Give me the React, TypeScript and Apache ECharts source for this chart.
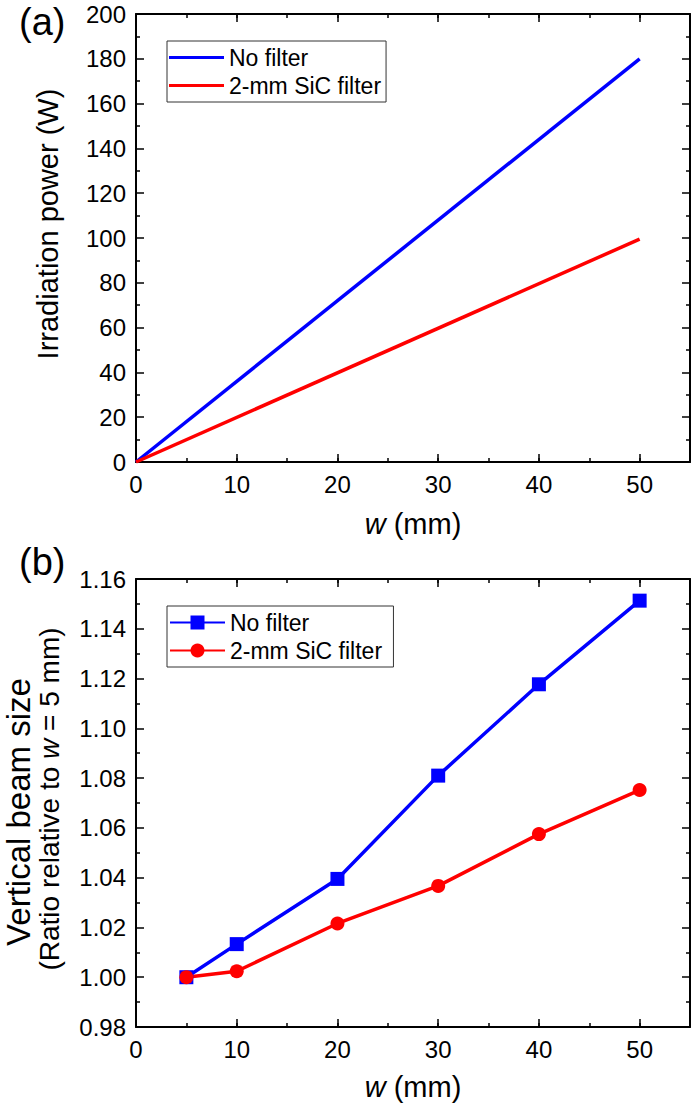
import React, { useEffect, useRef } from 'react';
import * as echarts from 'echarts';

const FONT = "'Liberation Sans', Arial, Helvetica, sans-serif";

// Panel (a): irradiation power vs w
const wTop = [0, 50];
const powerNoFilter = [0, 180];
const powerSiC = [0, 99.5];

// Panel (b): vertical beam size ratio vs w
const wBottom = [5, 10, 20, 30, 40, 50];
const ratioNoFilter = [1.0, 1.0133, 1.0395, 1.081, 1.1177, 1.1513];
const ratioSiC = [1.0, 1.0024, 1.0216, 1.0367, 1.0575, 1.0752];

const seriesNames = ['No filter', '2-mm SiC filter'];
const seriesNamesB = ['No filter ', '2-mm SiC filter '];
const panelLabels = ['(a)', '(b)'];

const BLUE = '#0000ff';
const RED = '#ff0000';

const pairs = (xs: number[], ys: number[]) => xs.map((x, i) => [x, ys[i]]);

const tickStyle = { color: '#000', width: 1.5 };
const lineStyle = { color: '#000', width: 2 };

function makeXAxes(gridIndex: number, nameGap: number) {
  const base = { type: 'value', gridIndex, min: 0, max: 55, splitLine: { show: false } };
  return [
    {
      ...base,
      position: 'bottom',
      interval: 10,
      axisLine: { show: true, onZero: false, lineStyle },
      axisTick: { show: true, inside: true, length: 8, lineStyle: tickStyle },
      axisLabel: { show: true, margin: 10, fontSize: 24, color: '#000', fontFamily: FONT, showMaxLabel: false },
      name: '{i|w} (mm)',
      nameLocation: 'middle',
      nameGap,
      nameTextStyle: {
        fontSize: 29,
        color: '#000',
        fontFamily: FONT,
        rich: { i: { fontStyle: 'italic', fontSize: 29, color: '#000', fontFamily: FONT } },
      },
    },
    {
      ...base,
      position: 'bottom',
      interval: 5,
      axisLine: { show: false, onZero: false },
      axisTick: { show: true, inside: true, length: 4, lineStyle: tickStyle },
      axisLabel: { show: false },
    },
    {
      ...base,
      position: 'top',
      interval: 10,
      axisLine: { show: true, onZero: false, lineStyle },
      axisTick: { show: true, inside: true, length: 8, lineStyle: tickStyle },
      axisLabel: { show: false },
    },
    {
      ...base,
      position: 'top',
      interval: 5,
      axisLine: { show: false, onZero: false },
      axisTick: { show: true, inside: true, length: 4, lineStyle: tickStyle },
      axisLabel: { show: false },
    },
  ];
}

function makeYAxes(
  gridIndex: number,
  min: number,
  max: number,
  interval: number,
  formatter: (v: number) => string,
  name: string,
  nameGap: number,
  nameTextStyle: any
) {
  const base = {
    type: 'value',
    gridIndex,
    min,
    max,
    interval,
    splitLine: { show: false },
    minorSplitLine: { show: false },
    axisLine: { show: true, onZero: false, lineStyle },
    axisTick: { show: true, inside: true, length: 8, lineStyle: tickStyle },
    minorTick: { show: true, splitNumber: 2, length: 4, lineStyle: tickStyle },
  };
  return [
    {
      ...base,
      position: 'left',
      axisLabel: { show: true, margin: 10, fontSize: 24, color: '#000', fontFamily: FONT, formatter },
      name,
      nameLocation: 'middle',
      nameGap,
      nameRotate: 90,
      nameTextStyle,
    },
    {
      ...base,
      position: 'right',
      axisLabel: { show: false },
    },
  ];
}

export default function App() {
  const ref = useRef<HTMLDivElement>(null);

  useEffect(() => {
    document.body.style.margin = '0';
    if (!ref.current) return;
    const chart = echarts.init(ref.current, null, { renderer: 'svg' });

    const option: any = {
      animation: false,
      backgroundColor: '#fff',
      textStyle: { fontFamily: FONT },
      grid: [
        { left: 136, top: 14, width: 554, height: 448, containLabel: false, outerBoundsMode: 'none' },
        { left: 136, top: 579, width: 554, height: 448, containLabel: false, outerBoundsMode: 'none' },
      ],
      xAxis: [...makeXAxes(0, 47), ...makeXAxes(1, 45)],
      yAxis: [
        ...makeYAxes(0, 0, 200, 20, (v: number) => String(Math.round(v)), 'Irradiation power (W)', 74, {
          fontSize: 29,
          color: '#000',
          fontFamily: FONT,
          padding: [0, 0, 0, 28],
        }),
        ...makeYAxes(
          1,
          0.98,
          1.16,
          0.02,
          (v: number) => v.toFixed(2),
          '{a|Vertical beam size}\n{b0|(Ratio relative to }{bi|w}{b| = 5 mm)}',
          71,
          {
            color: '#000',
            fontFamily: FONT,
            fontSize: 28,
            rich: {
              a: { fontSize: 33, lineHeight: 32, color: '#000', fontFamily: FONT, padding: [0, 18, 0, 0] },
              b0: { fontSize: 28, lineHeight: 31, color: '#000', fontFamily: FONT, padding: [0, 0, 0, 8] },
              b: { fontSize: 28, lineHeight: 31, color: '#000', fontFamily: FONT },
              bi: { fontSize: 28, lineHeight: 31, color: '#000', fontFamily: FONT, fontStyle: 'italic' },
            },
          }
        ),
      ],
      legend: [
        {
          orient: 'vertical',
          left: 167,
          top: 41,
          data: seriesNames.map((n) => ({ name: n, icon: 'rect' })),
          itemWidth: 55,
          itemHeight: 3,
          itemGap: 5,
          padding: [5, 5, 5, 2],
          borderColor: '#333',
          borderWidth: 1,
          borderRadius: 0,
          selectedMode: false,
          textStyle: { fontSize: 23, color: '#000', fontFamily: FONT },
        },
        {
          orient: 'vertical',
          left: 167,
          top: 606,
          data: seriesNamesB,
          itemWidth: 55,
          itemHeight: 17.5,
          itemGap: 5,
          padding: [5, 5, 5, 2],
          borderColor: '#333',
          borderWidth: 1,
          borderRadius: 0,
          selectedMode: false,
          textStyle: { fontSize: 23, color: '#000', fontFamily: FONT },
        },
      ],
      graphic: panelLabels.map((t, i) => ({
        type: 'text',
        x: 19,
        y: i === 0 ? 22 : 562,
        style: {
          text: t,
          font: `38px ${FONT}`,
          fill: '#000',
          verticalAlign: 'middle',
          align: 'left',
        },
      })),
      series: [
        {
          name: seriesNames[0],
          type: 'line',
          xAxisIndex: 0,
          yAxisIndex: 0,
          data: pairs(wTop, powerNoFilter),
          symbol: 'none',
          lineStyle: { color: BLUE, width: 3.5 },
          itemStyle: { color: BLUE },
        },
        {
          name: seriesNames[1],
          type: 'line',
          xAxisIndex: 0,
          yAxisIndex: 0,
          data: pairs(wTop, powerSiC),
          symbol: 'none',
          lineStyle: { color: RED, width: 3.5 },
          itemStyle: { color: RED },
        },
        {
          name: seriesNamesB[0],
          type: 'line',
          xAxisIndex: 4,
          yAxisIndex: 2,
          data: pairs(wBottom, ratioNoFilter),
          symbol: 'rect',
          symbolSize: 14,
          lineStyle: { color: BLUE, width: 3.5 },
          itemStyle: { color: BLUE, borderWidth: 0 },
        },
        {
          name: seriesNamesB[1],
          type: 'line',
          xAxisIndex: 4,
          yAxisIndex: 2,
          data: pairs(wBottom, ratioSiC),
          symbol: 'circle',
          symbolSize: 14,
          lineStyle: { color: RED, width: 3.5 },
          itemStyle: { color: RED, borderWidth: 0 },
        },
      ],
    };

    chart.setOption(option);
    return () => chart.dispose();
  }, []);

  return <div ref={ref} style={{ width: 692, height: 1107 }} />;
}
